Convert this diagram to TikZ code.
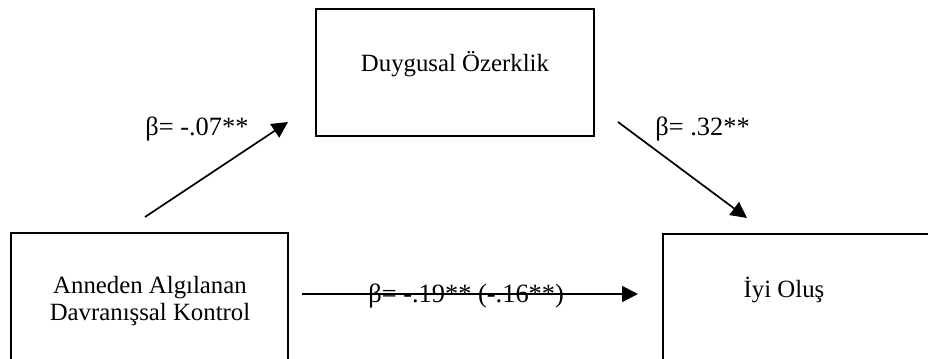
\documentclass[tikz,border=0pt]{standalone}
\usepackage{fontspec}
\setmainfont{Liberation Serif}
\usetikzlibrary{arrows.meta}
\begin{document}
\begin{tikzpicture}[x=0.5pt,y=-0.5pt,
  boxnode/.style={draw=black,line width=1pt,rectangle,inner sep=0pt,anchor=north west},
  boxtext/.style={font=\fontsize{12.4}{13.5}\selectfont,align=center,inner sep=0pt},
  coeff/.style={font=\fontsize{13.2}{15}\selectfont,inner sep=0pt,anchor=base west},
  path/.style={line width=0.85pt,-{Triangle[length=8pt,width=8pt]}}]
\useasboundingbox (0,0) rectangle (928,359);
\clip (0,0) rectangle (928,359);
% boxes
\node[boxnode,minimum width=138.5pt,minimum height=69pt] (L) at (10,232) {};
\node[boxnode,minimum width=139pt,minimum height=63.5pt] (M) at (315,8) {};
\node[boxnode,minimum width=139pt,minimum height=69pt] (R) at (662,233) {};
% box texts
\node[boxtext] (Lt) at (150,301) {Anneden Algılanan\\Davranışsal Kontrol};
\node[boxtext] (Mt) at (455,64) {Duygusal Özerklik};
\node[boxtext] (Rt) at (784,290) {İyi Oluş};
% arrow end points
\coordinate (a1s) at (145,217);
\coordinate (a1e) at (288,122);
\coordinate (a2s) at (618,122);
\coordinate (a2e) at (747,218);
\coordinate (a3s) at (302,294);
\coordinate (a3e) at (638,294);
\draw[path] (a1s) -- (a1e);
\draw[path] (a2s) -- (a2e);
\draw[path] (a3s) -- (a3e);
% coefficients
\node[coeff] (c1) at (145,135) {β= -.07**};
\node[coeff] (c2) at (655,135) {β= .32**};
\node[coeff] (c3) at (368,302) {β= -.19** (-.16**)};
\end{tikzpicture}
\end{document}
